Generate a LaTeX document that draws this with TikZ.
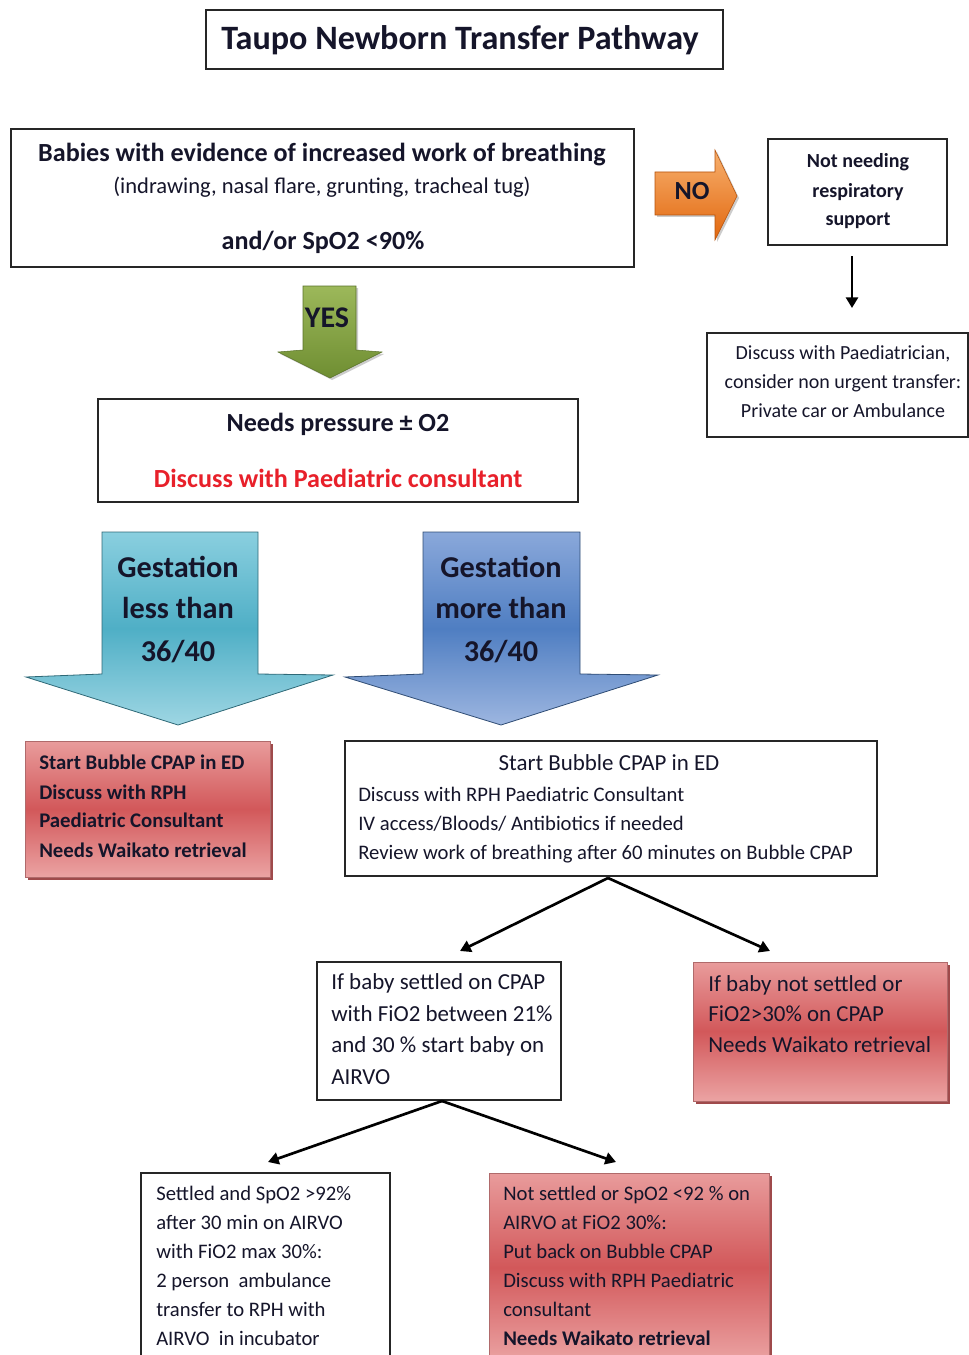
\documentclass[tikz,border=0pt]{standalone}
\usepackage{fontspec}
\setmainfont{Carlito}
\usetikzlibrary{fit,shadows,arrows.meta,calc}

\definecolor{ink}{HTML}{15152A}
\definecolor{redtxt}{HTML}{E8202A}
\definecolor{redmid}{HTML}{D2585A}
\definecolor{redlight}{HTML}{EBA3A3}
\definecolor{redshadow}{HTML}{8E2A2C}
\definecolor{orgtop}{HTML}{F7B06E}
\definecolor{orgbot}{HTML}{E2670E}
\definecolor{grntop}{HTML}{9CB85A}
\definecolor{grnbot}{HTML}{6F8E32}
\definecolor{tealtop}{HTML}{8ACFDF}
\definecolor{tealmid}{HTML}{4FAFC6}
\definecolor{tealbot}{HTML}{9ED6E3}
\definecolor{bluetop}{HTML}{8AA8DA}
\definecolor{bluemid}{HTML}{4F7EC2}
\definecolor{bluebot}{HTML}{9DB6E0}

\tikzset{
  box/.style={draw=black!85, line width=1pt, inner sep=0pt, fill=white},
  redbox/.style={draw=redshadow!70, line width=0.6pt, inner sep=0pt,
    top color=redlight!90!redmid, bottom color=redlight, middle color=redmid,
    drop shadow={shadow xshift=2.5pt, shadow yshift=-2.5pt, fill=redshadow, opacity=0.85}},
  txt/.style={text=ink, inner sep=0pt, anchor=base},
  ltxt/.style={text=ink, inner sep=0pt, anchor=base west},
  fT/.style={font=\fontsize{25.6}{28}\selectfont\bfseries},
  fA/.style={font=\fontsize{19.6}{22}\selectfont\bfseries},
  fY/.style={font=\fontsize{22.5}{25}\selectfont\bfseries},
  fB/.style={font=\fontsize{16.9}{19}\selectfont},
  fG/.style={font=\fontsize{22.7}{25}\selectfont\bfseries},
  fS/.style={font=\fontsize{15.5}{18}\selectfont},
  fSb/.style={font=\fontsize{15.6}{18}\selectfont\bfseries},
  fM/.style={font=\fontsize{17.2}{20}\selectfont},
  fN/.style={font=\fontsize{15}{18}\selectfont},
  fNb/.style={font=\fontsize{15}{18}\selectfont\bfseries},
  conn/.style={draw=black, line width=2pt, -{Triangle[length=8pt,width=9pt]}},
}

\begin{document}
\begin{tikzpicture}[x=0.75pt,y=-0.75pt]
\useasboundingbox (0,0) rectangle (969,1355);

% ---- Title
\node[box, fit={(206,10)(723,69)}] (title) {};
\node[txt, fT] (titlet) at (460,50) {Taupo Newborn Transfer Pathway};

% ---- First question box
\node[box, fit={(11,129)(634,267)}] (q1) {};
\node[txt, fA] (q1a) at (322,162) {Babies with evidence of increased work of breathing};
\node[txt, fB] (q1b) at (322,194) {(indrawing, nasal flare, grunting, tracheal tug)};
\node[txt, fA] (q1c) at (323,249) {and/or SpO2 <90\%};

% ---- NO arrow
\shade[top color=orgtop, bottom color=orgbot, draw=orgbot!80!black, line width=0.4pt,
  drop shadow={shadow xshift=1.5pt, shadow yshift=-1.5pt, fill=black!40, opacity=0.5}]
  (655,172) -- (715,172) -- (715,150) -- (737,196) -- (715,240) -- (715,215) -- (655,215) -- cycle;
\node[txt, fA] (no) at (692,200) {NO};

% ---- Not needing box
\node[box, fit={(768,139)(947,245)}] (notneed) {};
\node[txt, fNb] (nn1) at (858,168) {Not needing};
\node[txt, fNb] (nn2) at (858,198) {respiratory};
\node[txt, fNb] (nn3) at (858,226) {support};

% ---- Discuss with paediatrician
\node[box, fit={(707,333)(968,437)}] (paed) {};
\node[txt, fN] (pd1) at (843,359) {Discuss with Paediatrician,};
\node[txt, fN] (pd2) at (843,388) {consider non urgent transfer:};
\node[txt, fN] (pd3) at (843,417) {Private car or Ambulance};
\coordinate (nnout) at (852,256);
\coordinate (paedin) at (852,308);
\draw[conn] (nnout) -- (paedin);

% ---- YES arrow
\shade[top color=grntop, bottom color=grnbot, draw=grnbot!80!black, line width=0.4pt,
  drop shadow={shadow xshift=1.5pt, shadow yshift=-1.5pt, fill=black!40, opacity=0.5}]
  (303,286) -- (356,286) -- (356,350) -- (382,352) -- (330,378) -- (278,352) -- (303,350) -- cycle;
\node[txt, fY] (yes) at (327,327) {YES};

% ---- Needs pressure box
\node[box, fit={(98,399)(578,502)}] (press) {};
\node[txt, fA] (pr1) at (338,431) {Needs pressure ± O2};
\node[txt, fA, text=redtxt] (pr2) at (338,487) {Discuss with Paediatric consultant};

% ---- Gestation arrows
\shade[top color=tealtop, bottom color=tealbot, middle color=tealmid, draw=tealmid!60!black, line width=0.6pt]
  (102,532) -- (258,532) -- (258,674) -- (333,675) -- (178,725) -- (26,677) -- (102,674) -- cycle;
\node[txt, fG] (g1a) at (178,577) {Gestation};
\node[txt, fG] (g1b) at (178,618) {less than};
\node[txt, fG] (g1c) at (178,661) {36/40};

\shade[top color=bluetop, bottom color=bluebot, middle color=bluemid, draw=bluemid!60!black, line width=0.6pt]
  (423,532) -- (580,532) -- (580,674) -- (658,675) -- (501,725) -- (345,677) -- (423,674) -- cycle;
\node[txt, fG] (g2a) at (501,577) {Gestation};
\node[txt, fG] (g2b) at (501,618) {more than};
\node[txt, fG] (g2c) at (501,661) {36/40};

% ---- Red left box
\node[redbox, fit={(25,741)(270,877)}] (redL) {};
\node[ltxt, fSb] (rl1) at (39,769) {Start Bubble CPAP in ED};
\node[ltxt, fSb] (rl2) at (39,799) {Discuss with RPH};
\node[ltxt, fSb] (rl3) at (39,827) {Paediatric Consultant};
\node[ltxt, fSb] (rl4) at (39,857) {Needs Waikato retrieval};

% ---- CPAP box
\node[box, fit={(345,741)(877,876)}] (cpap) {};
\node[txt, fM] (cp1) at (609,770) {Start Bubble CPAP in ED};
\node[ltxt, fS] (cp2) at (358,801) {Discuss with RPH Paediatric Consultant};
\node[ltxt, fS] (cp3) at (358,830) {IV access/Bloods/ Antibiotics if needed};
\node[ltxt, fS] (cp4) at (358,859) {Review work of breathing after 60 minutes on Bubble CPAP};

% ---- Settled on CPAP box
\node[box, fit={(317,962)(561,1100)}] (settled) {};
\node[ltxt, fM] (st1) at (331,989) {If baby settled on CPAP};
\node[ltxt, fM] (st2) at (331,1021) {with FiO2 between 21\%};
\node[ltxt, fM] (st3) at (331,1052) {and 30 \% start baby on};
\node[ltxt, fM] (st4) at (331,1084) {AIRVO};

% ---- Not settled red box
\node[redbox, fit={(693,962)(947,1101)}] (redR) {};
\node[ltxt, fM] (rr1) at (708,991) {If baby not settled or};
\node[ltxt, fM] (rr2) at (708,1021) {FiO2>30\% on CPAP};
\node[ltxt, fM] (rr3) at (708,1052) {Needs Waikato retrieval};

\coordinate (cpapout) at (608,878);
\coordinate (settledin) at (460,951);
\coordinate (redRin) at (770,951);
\draw[conn] (cpapout) -- (settledin);
\draw[conn] (cpapout) -- (redRin);

% ---- Bottom boxes
\node[box, fit={(141,1173)(390,1360)}] (airvo) {};
\node[ltxt, fS] (a1) at (156,1200) {Settled and SpO2 >92\%};
\node[ltxt, fS] (a2) at (156,1229) {after 30 min on AIRVO};
\node[ltxt, fS] (a3) at (156,1258) {with FiO2 max 30\%:};
\node[ltxt, fS] (a4) at (156,1287) {2 person\ \ ambulance};
\node[ltxt, fS] (a5) at (156,1316) {transfer to RPH with};
\node[ltxt, fS] (a6) at (156,1345) {AIRVO\ \ in incubator};

\node[redbox, fit={(489,1173)(769,1362)}] (redB) {};
\node[ltxt, fS] (b1) at (503,1200) {Not settled or SpO2 <92 \% on};
\node[ltxt, fS] (b2) at (503,1229) {AIRVO at FiO2 30\%:};
\node[ltxt, fS] (b3) at (503,1258) {Put back on Bubble CPAP};
\node[ltxt, fS] (b4) at (503,1287) {Discuss with RPH Paediatric};
\node[ltxt, fS] (b5) at (503,1316) {consultant};
\node[ltxt, fSb] (b6) at (503,1345) {Needs Waikato retrieval};

\coordinate (setout) at (442,1101);
\coordinate (airvoin) at (268,1162);
\coordinate (redBin) at (616,1162);
\draw[conn] (setout) -- (airvoin);
\draw[conn] (setout) -- (redBin);
\end{tikzpicture}
\end{document}
